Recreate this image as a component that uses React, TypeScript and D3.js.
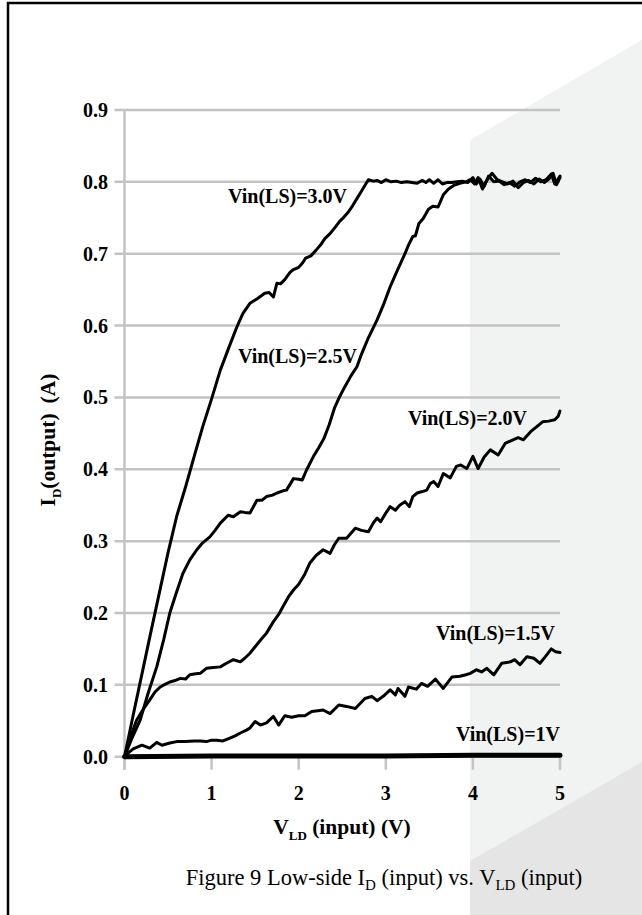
import React from 'react';
import * as d3 from 'd3';

// Low-side drain current vs. load voltage, one curve per low-side input voltage

const yTicks = [0, 0.1, 0.2, 0.3, 0.4, 0.5, 0.6, 0.7, 0.8, 0.9];
const yTickLabels = ['0.0', '0.1', '0.2', '0.3', '0.4', '0.5', '0.6', '0.7', '0.8', '0.9'];
const xTicks = [0, 1, 2, 3, 4, 5];
const xTickLabels = ['0', '1', '2', '3', '4', '5'];

const seriesNames = ['Vin(LS)=3.0V', 'Vin(LS)=2.5V', 'Vin(LS)=2.0V', 'Vin(LS)=1.5V', 'Vin(LS)=1V'];

const v30 = [0, 0.1, 0.2, 0.3, 0.4, 0.5, 0.6, 0.7, 0.8, 0.9, 1.0, 1.1, 1.2, 1.29, 1.36, 1.44, 1.52, 1.61, 1.66, 1.71, 1.75, 1.79, 1.84, 1.9, 1.94, 2.0, 2.05, 2.08, 2.14, 2.2, 2.25, 2.3, 2.36, 2.42, 2.47, 2.52, 2.57, 2.62, 2.67, 2.72, 2.77, 2.8, 2.86, 2.9, 2.95, 3.0, 3.06, 3.12, 3.18, 3.24, 3.3, 3.36, 3.42, 3.46, 3.5, 3.55, 3.6, 3.65, 3.7, 3.76, 3.82, 3.88, 3.94, 4.0, 4.04, 4.08, 4.13, 4.18, 4.24, 4.3, 4.36, 4.42, 4.48, 4.54, 4.6, 4.66, 4.72, 4.78, 4.84, 4.9, 4.94, 5.0];
const i30 = [0, 0.058, 0.115, 0.172, 0.228, 0.284, 0.335, 0.375, 0.418, 0.46, 0.498, 0.538, 0.57, 0.598, 0.617, 0.631, 0.637, 0.645, 0.646, 0.64, 0.659, 0.658, 0.664, 0.674, 0.678, 0.681, 0.688, 0.694, 0.697, 0.705, 0.712, 0.721, 0.728, 0.737, 0.745, 0.751, 0.758, 0.767, 0.777, 0.787, 0.797, 0.803, 0.801, 0.802, 0.799, 0.803, 0.8, 0.801, 0.799, 0.8, 0.799, 0.798, 0.802, 0.799, 0.803, 0.798, 0.803, 0.797, 0.799, 0.799, 0.8, 0.801, 0.799, 0.806, 0.797, 0.804, 0.794, 0.808, 0.8, 0.801, 0.796, 0.799, 0.794, 0.8, 0.803, 0.799, 0.805, 0.8, 0.803, 0.811, 0.797, 0.808];

const v25 = [0, 0.09, 0.18, 0.27, 0.37, 0.45, 0.52, 0.6, 0.67, 0.75, 0.83, 0.9, 0.98, 1.04, 1.1, 1.19, 1.25, 1.33, 1.38, 1.44, 1.52, 1.58, 1.63, 1.7, 1.75, 1.82, 1.86, 1.94, 2.0, 2.04, 2.09, 2.17, 2.23, 2.29, 2.35, 2.41, 2.47, 2.53, 2.6, 2.67, 2.72, 2.8, 2.9, 2.97, 3.05, 3.13, 3.22, 3.26, 3.31, 3.34, 3.38, 3.43, 3.49, 3.54, 3.6, 3.66, 3.72, 3.78, 3.85, 3.92, 3.97, 4.02, 4.06, 4.11, 4.16, 4.22, 4.28, 4.34, 4.4, 4.46, 4.52, 4.58, 4.64, 4.7, 4.76, 4.82, 4.88, 4.92, 4.96, 5.0];
const i25 = [0, 0.027, 0.051, 0.088, 0.125, 0.163, 0.2, 0.23, 0.255, 0.274, 0.288, 0.298, 0.306, 0.315, 0.325, 0.336, 0.334, 0.341, 0.34, 0.339, 0.357, 0.357, 0.362, 0.364, 0.367, 0.37, 0.371, 0.387, 0.386, 0.385, 0.399, 0.418, 0.43, 0.443, 0.462, 0.485, 0.501, 0.515, 0.53, 0.543, 0.56, 0.583, 0.608, 0.628, 0.654, 0.676, 0.7, 0.712, 0.724, 0.725, 0.742, 0.749, 0.762, 0.766, 0.765, 0.782, 0.79, 0.795, 0.798, 0.8, 0.803, 0.797, 0.806, 0.79, 0.802, 0.812, 0.803, 0.8, 0.797, 0.801, 0.792, 0.799, 0.802, 0.797, 0.804, 0.799, 0.805, 0.812, 0.796, 0.806];

const v20 = [0, 0.07, 0.14, 0.22, 0.29, 0.35, 0.41, 0.47, 0.52, 0.58, 0.64, 0.7, 0.75, 0.8, 0.87, 0.94, 1.02, 1.1, 1.17, 1.25, 1.33, 1.38, 1.44, 1.5, 1.56, 1.63, 1.71, 1.77, 1.82, 1.88, 1.94, 2.0, 2.07, 2.13, 2.2, 2.28, 2.36, 2.41, 2.46, 2.55, 2.65, 2.72, 2.8, 2.86, 2.9, 2.94, 3.0, 3.05, 3.11, 3.16, 3.22, 3.27, 3.31, 3.36, 3.42, 3.47, 3.51, 3.55, 3.6, 3.66, 3.74, 3.81, 3.86, 3.93, 4.0, 4.06, 4.13, 4.2, 4.29, 4.37, 4.46, 4.52, 4.58, 4.66, 4.73, 4.8, 4.87, 4.94, 4.98, 5.0];
const i20 = [0, 0.028, 0.051, 0.067, 0.079, 0.09, 0.097, 0.101, 0.104, 0.106, 0.109, 0.108, 0.114, 0.115, 0.116, 0.123, 0.124, 0.125, 0.13, 0.135, 0.132, 0.137, 0.144, 0.153, 0.162, 0.172, 0.188, 0.198, 0.209, 0.222, 0.232, 0.24, 0.254, 0.27, 0.28, 0.288, 0.283, 0.295, 0.304, 0.304, 0.318, 0.315, 0.313, 0.326, 0.332, 0.327, 0.339, 0.348, 0.343, 0.35, 0.355, 0.348, 0.362, 0.367, 0.369, 0.371, 0.38, 0.383, 0.376, 0.394, 0.388, 0.404, 0.406, 0.401, 0.418, 0.401, 0.417, 0.427, 0.42, 0.436, 0.441, 0.444, 0.441, 0.452, 0.459, 0.466, 0.467, 0.469, 0.474, 0.481];

const v15 = [0, 0.05, 0.1, 0.2, 0.29, 0.37, 0.43, 0.52, 0.6, 0.7, 0.8, 0.87, 0.94, 1.0, 1.06, 1.13, 1.21, 1.27, 1.33, 1.4, 1.44, 1.5, 1.56, 1.63, 1.71, 1.77, 1.84, 1.92, 2.0, 2.07, 2.15, 2.22, 2.28, 2.36, 2.46, 2.55, 2.65, 2.76, 2.84, 2.9, 2.97, 3.05, 3.11, 3.14, 3.22, 3.26, 3.35, 3.41, 3.48, 3.57, 3.66, 3.76, 3.85, 3.92, 3.97, 4.04, 4.1, 4.16, 4.24, 4.33, 4.43, 4.48, 4.54, 4.62, 4.7, 4.77, 4.83, 4.9, 4.95, 5.0];
const i15 = [0, 0.006, 0.011, 0.016, 0.012, 0.02, 0.016, 0.019, 0.021, 0.021, 0.022, 0.022, 0.021, 0.023, 0.023, 0.022, 0.026, 0.029, 0.033, 0.037, 0.04, 0.049, 0.044, 0.047, 0.056, 0.044, 0.057, 0.055, 0.057, 0.057, 0.063, 0.064, 0.065, 0.06, 0.072, 0.07, 0.067, 0.081, 0.084, 0.078, 0.084, 0.093, 0.086, 0.095, 0.084, 0.097, 0.094, 0.102, 0.098, 0.108, 0.095, 0.111, 0.112, 0.114, 0.116, 0.121, 0.118, 0.123, 0.114, 0.13, 0.132, 0.135, 0.128, 0.139, 0.137, 0.13, 0.139, 0.15, 0.146, 0.145];

const v10 = [0, 1, 2, 3, 4, 5];
const i10 = [0, 0.001, 0.001, 0.001, 0.002, 0.002];

// label anchor (end of text, baseline) in data units
const labelV = [2.555, 2.669, 4.621, 4.943, 5.0];
const labelI = [0.7706, 0.548, 0.4617, 0.1624, 0.0218];

const W = 642;
const H = 915;
const SERIF = '"Liberation Serif", "Times New Roman", Times, serif';

export default function App() {
  const x = d3.scaleLinear().domain([0, 5]).range([124.5, 560]);
  const y = d3.scaleLinear().domain([0, 0.9]).range([756.7, 110]);

  const series = [
    { v: v30, i: i30, w: 3 },
    { v: v25, i: i25, w: 3 },
    { v: v20, i: i20, w: 3 },
    { v: v15, i: i15, w: 3 },
    { v: v10, i: i10, w: 5 },
  ];

  const line = d3
    .line<[number, number]>()
    .x((d) => x(d[0]))
    .y((d) => y(d[1]));

  const grid = '#c3c3c3';

  return (
    <>
      <style>{`body{margin:0;}`}</style>
      <svg width={W} height={H} style={{ display: 'block' }} fontFamily={SERIF}>
        <rect x={0} y={0} width={W} height={H} fill="#ffffff" />
        {/* page backdrop */}
        <polygon points="470,140 642,40 642,915 470,915" fill="#f1f2f2" />
        <polygon points="470,861 642,762 642,915 470,915" fill="#e5e5e5" />
        <rect x={8} y={3} width={660} height={940} fill="none" stroke="#000" strokeWidth={2.5} />

        {/* horizontal gridlines */}
        {yTicks.map((t) => (
          <line key={'g' + t} x1={x(0) - 10} x2={x(5)} y1={y(t)} y2={y(t)} stroke={grid} strokeWidth={2.5} />
        ))}
        {/* y axis line */}
        <line x1={x(0)} x2={x(0)} y1={y(0.9)} y2={y(0) + 13} stroke={grid} strokeWidth={2.5} />
        {/* x ticks */}
        {xTicks.map((t) => (
          <line key={'xt' + t} x1={x(t)} x2={x(t)} y1={y(0)} y2={y(0) + 13} stroke={grid} strokeWidth={2.5} />
        ))}

        {/* y tick labels */}
        {yTicks.map((t, k) => (
          <text key={'yl' + t} x={108} y={y(t)} dy="0.35em" textAnchor="end" fontSize={20} fontWeight="bold">
            {yTickLabels[k]}
          </text>
        ))}
        {/* x tick labels */}
        {xTicks.map((t, k) => (
          <text key={'xl' + t} x={x(t)} y={800} textAnchor="middle" fontSize={20} fontWeight="bold">
            {xTickLabels[k]}
          </text>
        ))}

        {/* curves */}
        {series.map((s, k) => (
          <path
            key={'s' + k}
            d={line(s.v.map((v, j) => [v, s.i[j]] as [number, number])) || ''}
            fill="none"
            stroke="#000"
            strokeWidth={s.w}
            strokeLinejoin="round"
            strokeLinecap="round"
          />
        ))}

        {/* curve labels */}
        {seriesNames.map((n, k) => (
          <text key={'n' + k} x={x(labelV[k])} y={y(labelI[k])} textAnchor="end" fontSize={20} fontWeight="bold">
            {n}
          </text>
        ))}

        {/* axis titles */}
        <text x={342} y={834} textAnchor="middle" fontSize={21.5} fontWeight="bold">
          V<tspan fontSize={13} dy={6}>LD</tspan>
          <tspan dy={-6}> (input) (V)</tspan>
        </text>
        <text transform="translate(55,440) rotate(-90)" textAnchor="middle" fontSize={21.5} fontWeight="bold">
          I<tspan fontSize={13} dy={6}>D</tspan>
          <tspan dy={-6}>(output)</tspan>
          <tspan dx={10}>(A)</tspan>
        </text>

        {/* caption */}
        <text x={384} y={885} textAnchor="middle" fontSize={22.5}>
          Figure 9 Low-side I<tspan fontSize={15} dy={5}>D</tspan>
          <tspan dy={-5}> (input) vs. V</tspan>
          <tspan fontSize={15} dy={5}>LD</tspan>
          <tspan dy={-5}> (input)</tspan>
        </text>
      </svg>
    </>
  );
}
